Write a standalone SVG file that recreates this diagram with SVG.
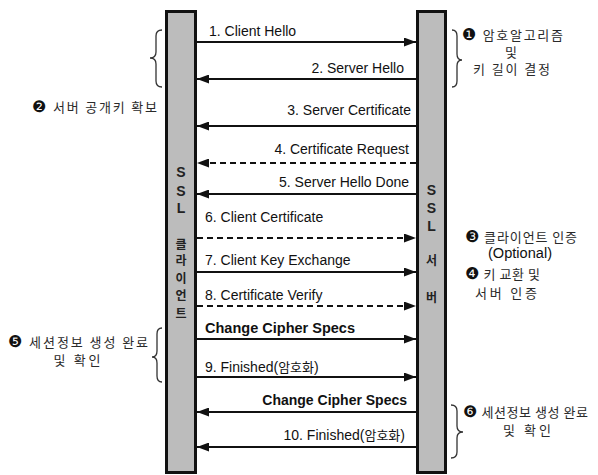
<svg xmlns="http://www.w3.org/2000/svg" width="598" height="475" viewBox="0 0 598 475">
<style>
.bar{fill:#bcbcbc;stroke:#111;stroke-width:3}
.msg{font-family:"Liberation Sans",Arial,sans-serif;font-size:14px;fill:#111}
.bold{font-weight:bold}
.vt{font-family:"Liberation Sans","Noto Sans CJK KR",sans-serif;font-size:14px;font-weight:bold;fill:#222;text-anchor:middle}
.vk{font-family:"Noto Sans CJK KR",sans-serif;font-size:12px;font-weight:bold;fill:#222;text-anchor:middle}
.ann{font-family:"Noto Sans CJK KR","DejaVu Sans",sans-serif;font-size:13px;fill:#2a2a2a}
.num{font-family:"DejaVu Sans",sans-serif;font-size:16px;fill:#111}
.solid{stroke:#111;stroke-width:1.8;fill:none}
.dash{stroke:#111;stroke-width:1.8;fill:none;stroke-dasharray:6 4}
.brace{stroke:#333;stroke-width:1.3;fill:none}
</style>
<defs>
<marker id="ah" markerUnits="userSpaceOnUse" markerWidth="13" markerHeight="9" refX="12" refY="4.5" orient="auto">
<path d="M0,0 L12,4.5 L0,9 z" fill="#111"/>
</marker>
</defs>
<rect width="598" height="475" fill="#fff"/>

<g id="client">
<rect class="bar" x="166.5" y="11.5" width="29" height="461"/>
<text class="vt" x="181" y="177">S</text>
<text class="vt" x="181" y="196">S</text>
<text class="vt" x="181" y="213">L</text>
<text class="vk" x="181" y="249">클</text>
<text class="vk" x="181" y="265">라</text>
<text class="vk" x="181" y="283">이</text>
<text class="vk" x="181" y="300">언</text>
<text class="vk" x="181" y="318">트</text>
</g>

<g id="server">
<rect class="bar" x="417.5" y="11.5" width="28" height="461"/>
<text class="vt" x="431.5" y="195">S</text>
<text class="vt" x="431.5" y="213">S</text>
<text class="vt" x="431.5" y="231">L</text>
<text class="vk" x="431.5" y="265">서</text>
<text class="vk" x="431.5" y="302">버</text>
</g>

<g id="connectors">
<line class="solid" x1="197" y1="42" x2="416" y2="42" marker-end="url(#ah)"/>
<line class="solid" x1="416" y1="79" x2="197" y2="79" marker-end="url(#ah)"/>
<line class="solid" x1="416" y1="126" x2="197" y2="126" marker-end="url(#ah)"/>
<line class="dash" x1="416" y1="163" x2="197" y2="163" marker-end="url(#ah)"/>
<line class="solid" x1="416" y1="194" x2="197" y2="194" marker-end="url(#ah)"/>
<line class="dash" x1="197" y1="238" x2="416" y2="238" marker-end="url(#ah)"/>
<line class="solid" x1="197" y1="272" x2="416" y2="272" marker-end="url(#ah)"/>
<line class="dash" x1="197" y1="306" x2="416" y2="306" marker-end="url(#ah)"/>
<line class="solid" x1="197" y1="339" x2="416" y2="339" marker-end="url(#ah)"/>
<line class="solid" x1="197" y1="377" x2="416" y2="377" marker-end="url(#ah)"/>
<line class="solid" x1="416" y1="412" x2="197" y2="412" marker-end="url(#ah)"/>
<line class="solid" x1="416" y1="447" x2="197" y2="447" marker-end="url(#ah)"/>
</g>

<g id="labels">
<text class="msg" x="209" y="36">1. Client Hello</text>
<text class="msg" x="404" y="73" text-anchor="end">2. Server Hello</text>
<text class="msg" x="411" y="115" text-anchor="end">3. Server Certificate</text>
<text class="msg" x="409" y="154" text-anchor="end">4. Certificate Request</text>
<text class="msg" x="409" y="187" text-anchor="end">5. Server Hello Done</text>
<text class="msg" x="205" y="222">6. Client Certificate</text>
<text class="msg" x="205" y="265">7. Client Key Exchange</text>
<text class="msg" x="205" y="300">8. Certificate Verify</text>
<text class="msg bold" x="205" y="333" textLength="150" lengthAdjust="spacingAndGlyphs">Change Cipher Specs</text>
<text class="msg" x="205" y="372">9. Finished(<tspan font-family="Noto Sans CJK KR" font-size="13">암호화</tspan>)</text>
<text class="msg bold" x="407" y="405" text-anchor="end">Change Cipher Specs</text>
<text class="msg" x="405" y="440" text-anchor="end">10. Finished(<tspan font-family="Noto Sans CJK KR" font-size="13">암호화</tspan>)</text>
</g>

<g id="note1">
<path class="brace" d="M452,30 Q457,30 457,36 L457,54 Q457,60 462,60 Q457,60 457,66 L457,81 Q457,87 452,87"/>
<text class="ann" x="462" y="40" textLength="101" lengthAdjust="spacing"><tspan class="num">❶</tspan> 암호알고리즘</text>
<text class="ann" x="511" y="57" text-anchor="middle" font-size="12.5">및</text>
<text class="ann" x="473" y="74" textLength="77" lengthAdjust="spacing">키 길이 결정</text>
</g>

<g id="note2">
<path class="brace" d="M162,30 Q156,30 156,36 L156,52 Q156,58 150,58 Q156,58 156,64 L156,81 Q156,87 162,87"/>
<text class="ann" x="32" y="112" textLength="125" lengthAdjust="spacing"><tspan class="num">❷</tspan> 서버 공개키 확보</text>
</g>

<g id="note3">
<text class="ann" x="465" y="242" textLength="112" lengthAdjust="spacing"><tspan class="num">❸</tspan> 클라이언트 인증</text>
<text class="msg" x="488" y="258" font-size="13.5" textLength="64" lengthAdjust="spacingAndGlyphs">(Optional)</text>
</g>

<g id="note4">
<text class="ann" x="465" y="279" textLength="75" lengthAdjust="spacing"><tspan class="num">❹</tspan> 키 교환 및</text>
<text class="ann" x="475" y="298" textLength="62" lengthAdjust="spacing">서버 인증</text>
</g>

<g id="note5">
<path class="brace" d="M162,328 Q157,328 157,334 L157,351 Q157,357 152,357 Q157,357 157,363 L157,376 Q157,382 162,382"/>
<text class="ann" x="8" y="347" textLength="140" lengthAdjust="spacing"><tspan class="num">❺</tspan> 세션정보 생성 완료</text>
<text class="ann" x="77" y="365" text-anchor="middle" textLength="47" lengthAdjust="spacing">및 확인</text>
</g>

<g id="note6">
<path class="brace" d="M451,405 Q457,405 457,411 L457,426 Q457,432 463,432 Q457,432 457,438 L457,452 Q457,458 451,458"/>
<text class="ann" x="463" y="417" textLength="125" lengthAdjust="spacing"><tspan class="num">❻</tspan> 세션정보 생성 완료</text>
<text class="ann" x="527" y="435" text-anchor="middle" textLength="48" lengthAdjust="spacing">및 확인</text>
</g>
</svg>
